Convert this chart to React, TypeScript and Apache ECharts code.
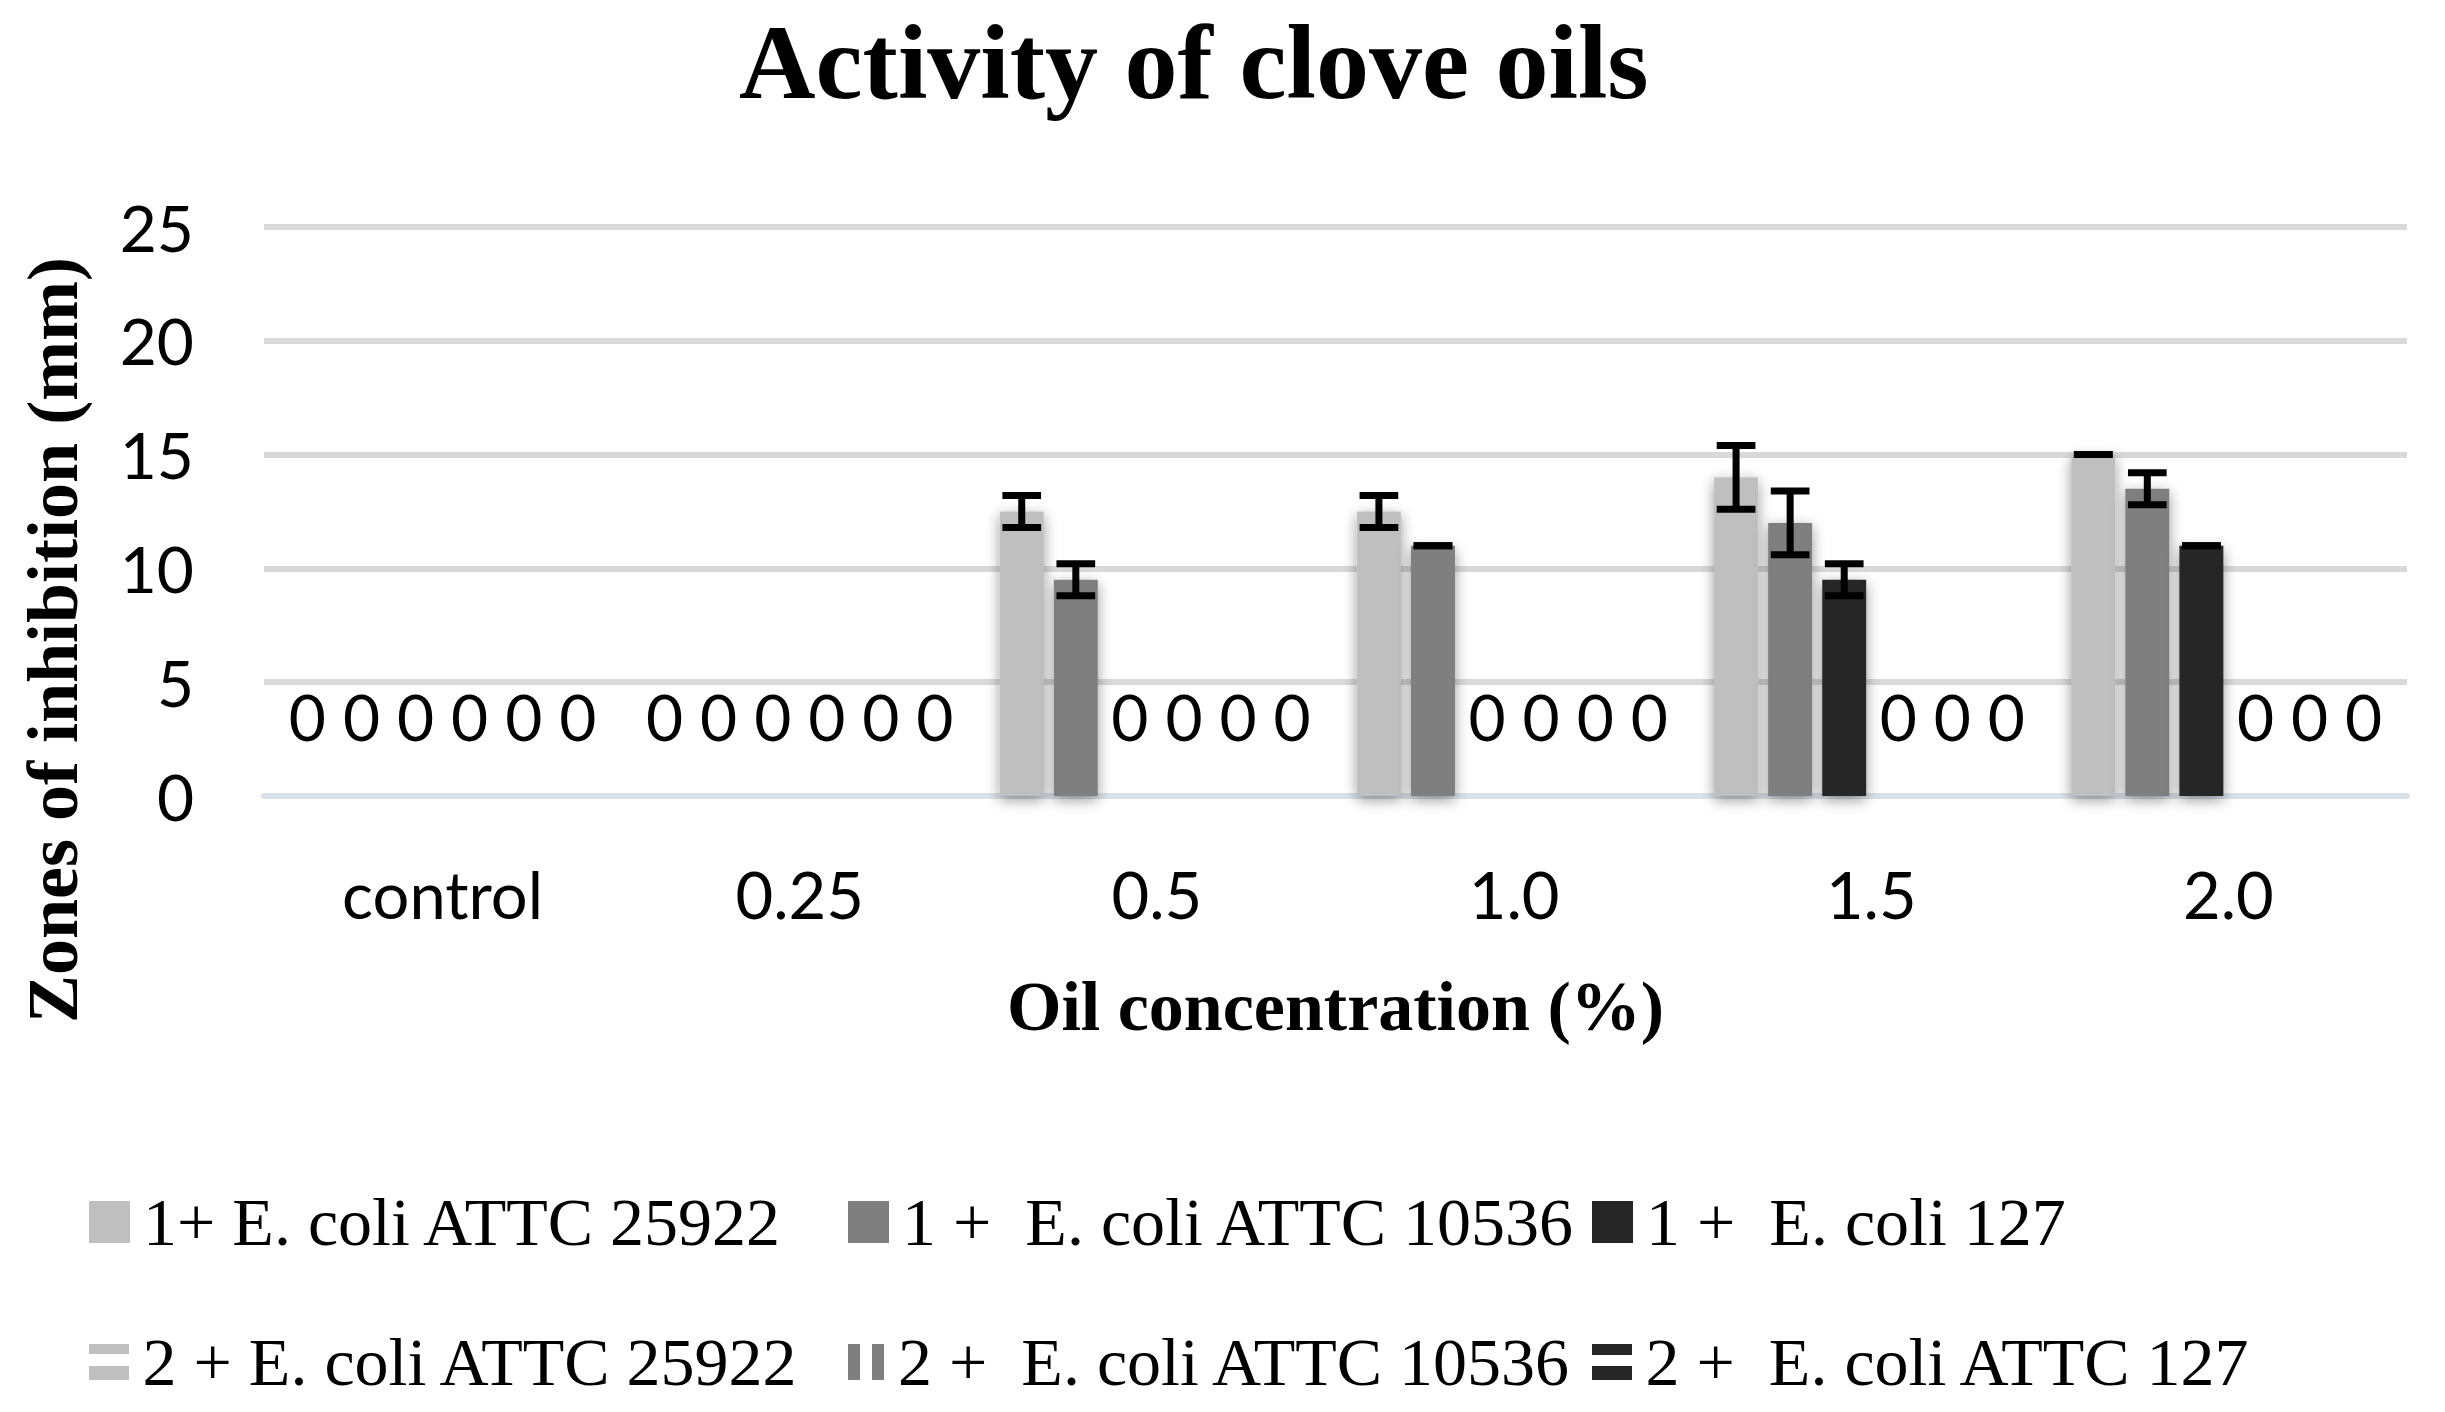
import React, { useEffect, useRef } from "react";
import * as echarts from "echarts";

const categories = ["control", "0.25", "0.5", "1.0", "1.5", "2.0"];
const seriesNames = [
  "1+ E. coli ATTC 25922",
  "1 +  E. coli ATTC 10536",
  "1 +  E. coli 127",
  "2 + E. coli ATTC 25922",
  "2 +  E. coli ATTC 10536",
  "2 +  E. coli ATTC 127",
];
const s1Values = [0, 0, 12.5, 12.5, 14, 15];
const s2Values = [0, 0, 9.5, 11, 12, 13.5];
const s3Values = [0, 0, 0, 0, 9.5, 11];
const s4Values = [0, 0, 0, 0, 0, 0];
const s5Values = [0, 0, 0, 0, 0, 0];
const s6Values = [0, 0, 0, 0, 0, 0];
const s1Errors = [0, 0, 0.7, 0.7, 1.4, 0];
const s2Errors = [0, 0, 0.7, 0, 1.4, 0.7];
const s3Errors = [0, 0, 0, 0, 0.7, 0];
const yMin = 0;
const yMax = 25;
const yStep = 5;

const allValues = [s1Values, s2Values, s3Values, s4Values, s5Values, s6Values];
const allErrors = [s1Errors, s2Errors, s3Errors];
const colors = ["#BFBFBF", "#7F7F7F", "#262626", "#BFBFBF", "#7F7F7F", "#262626"];

const CAT_GAP = 0.12;
const BAR_GAP = 0.23;
const N_BARS = 6;

const SANS = "Lato";
const SERIF = "Liberation Serif";

export default function App() {
  const ref = useRef<HTMLDivElement>(null);
  useEffect(() => {
    document.body.style.margin = "0";
    document.body.style.overflow = "hidden";
    const chart = echarts.init(ref.current!, null, { renderer: "svg" });

    const barSeries = allValues.map((vals, si) => ({
      type: "bar",
      name: seriesNames[si],
      barCategoryGap: CAT_GAP * 100 + "%",
      barGap: BAR_GAP * 100 + "%",
      itemStyle: { color: colors[si] },
      data: vals.map((v) => ({
        value: v,
        itemStyle:
          v > 0
            ? {
                color: colors[si],
                shadowBlur: 14,
                shadowColor: "rgba(0,0,0,0.4)",
                shadowOffsetY: 4,
              }
            : { color: colors[si] },
      })),
      label: {
        show: true,
        position: "top",
        distance: 48,
        formatter: (p: any) => (p.value === 0 ? "0" : ""),
        fontFamily: SANS,
        fontSize: 64,
        color: "#000",
      },
      z: 2,
    }));

    const errData: number[][] = [];
    allErrors.forEach((errs, si) => {
      errs.forEach((e, ci) => {
        const v = allValues[si][ci];
        if (v > 0) errData.push([ci, v, e, si]);
      });
    });

    const errSeries = {
      type: "custom",
      name: "errors",
      z: 5,
      silent: true,
      data: errData,
      renderItem: (params: any, api: any) => {
        const ci = api.value(0);
        const v = api.value(1);
        const e = api.value(2);
        const si = api.value(3);
        const band = api.size([1, 0])[0];
        const total = band * (1 - CAT_GAP);
        const w = total / (N_BARS + (N_BARS - 1) * BAR_GAP);
        const cx = api.coord([ci, 0])[0] - total / 2 + si * w * (1 + BAR_GAP) + w / 2;
        const yT = api.coord([ci, v + e])[1];
        const yB = api.coord([ci, v - e])[1];
        const half = w * 0.44;
        const st = { stroke: "#000", lineWidth: 7 };
        return {
          type: "group",
          children: [
            { type: "line", shape: { x1: cx, y1: yT, x2: cx, y2: yB }, style: st },
            { type: "line", shape: { x1: cx - half, y1: yT, x2: cx + half, y2: yT }, style: st },
            { type: "line", shape: { x1: cx - half, y1: yB, x2: cx + half, y2: yB }, style: st },
          ],
        };
      },
    };

    const legendPos = [
      { left: 89, top: 1188 },
      { left: 848, top: 1188 },
      { left: 1592, top: 1188 },
      { left: 89, top: 1328 },
      { left: 848, top: 1328 },
      { left: 1592, top: 1328 },
    ];
    const legendIcons = [
      "rect",
      "rect",
      "rect",
      "path://M0,0H40V10H0ZM0,22H40V36H0Z",
      "path://M0,0H12V36H0ZM24,0H36V36H24Z",
      "path://M0,0H40V11H0ZM0,22H40V36H0Z",
    ];
    const legendSizes = [
      [41, 42],
      [41, 42],
      [41, 42],
      [41, 36],
      [38, 36],
      [41, 36],
    ];
    const legends = seriesNames.map((n, i) => ({
      data: [n],
      left: legendPos[i].left,
      top: legendPos[i].top,
      padding: 0,
      icon: legendIcons[i],
      itemWidth: legendSizes[i][0],
      itemHeight: legendSizes[i][1],
      selectedMode: false,
      textStyle: {
        fontFamily: SERIF,
        fontSize: 68,
        color: "#000",
        padding: [0, 0, 0, 8],
      },
    }));

    chart.setOption({
      animation: false,
      backgroundColor: "#fff",
      textStyle: { fontFamily: SANS },
      title: {
        text: "Activity of clove oils",
        left: 739,
        top: 9,
        padding: 0,
        textStyle: {
          fontFamily: SERIF,
          fontWeight: "bold",
          fontSize: 106,
          lineHeight: 106,
          color: "#000",
        },
      },
      legend: legends,
      grid: { left: 264, right: 38, top: 227, bottom: 616, containLabel: false },
      xAxis: {
        type: "category",
        data: categories,
        axisTick: { show: false },
        axisLine: { show: true, lineStyle: { color: "#D9E1EA", width: 6 } },
        axisLabel: { margin: 65, fontFamily: SANS, fontSize: 65, color: "#000" },
        name: "Oil concentration (%)",
        nameLocation: "middle",
        nameGap: 175,
        nameTextStyle: { fontFamily: SERIF, fontWeight: "bold", fontSize: 70, color: "#000" },
      },
      yAxis: {
        type: "value",
        min: yMin,
        max: yMax,
        interval: yStep,
        axisLine: { show: false },
        axisTick: { show: false },
        axisLabel: { margin: 70, fontFamily: SANS, fontSize: 64, color: "#000" },
        splitLine: { show: true, lineStyle: { color: "#D9D9D9", width: 6 } },
      },
      graphic: [
        {
          type: "text",
          x: 53,
          y: 640,
          rotation: Math.PI / 2,
          style: {
            text: "Zones of inhibition (mm)",
            font: 'bold 72px "Liberation Serif"',
            fill: "#000",
            textAlign: "center",
            textVerticalAlign: "middle",
            align: "center",
            verticalAlign: "middle",
          },
        },
      ],
      series: [...barSeries, errSeries],
    });
    return () => chart.dispose();
  }, []);
  return <div ref={ref} style={{ width: 2445, height: 1412 }} />;
}
